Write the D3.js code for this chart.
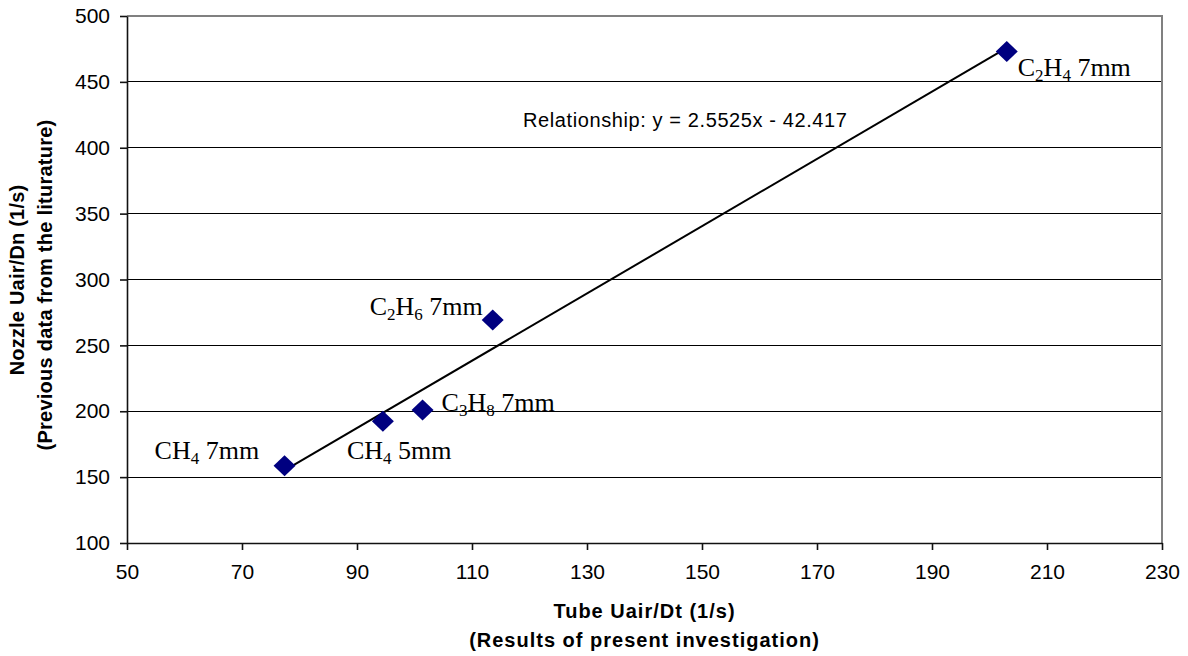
<!DOCTYPE html>
<html>
<head>
<meta charset="utf-8">
<script src="https://cdn.jsdelivr.net/npm/d3@7"></script>
<style>
  html, body { margin: 0; padding: 0; background: #fff; }
  svg { display: block; }
  .tick text { font-family: Arial, "Liberation Sans", sans-serif; font-size: 21px; fill: #000; }
</style>
</head>
<body>
<svg id="chart" width="1188" height="656"></svg>
<script>
// Flame data: tube vs nozzle air velocity / diameter
const fuels    = ["CH4 7mm", "CH4 5mm", "C3H8 7mm", "C2H6 7mm", "C2H4 7mm"];
const tubeVals = [77.4, 94.5, 101.4, 113.6, 203.0];
const nozzleVals = [158.6, 192.5, 201.0, 269.3, 473.0];
// label pieces: [text, isSubscript]
const labelParts = [
  [["CH", 0], ["4", 1], [" 7mm", 0]],
  [["CH", 0], ["4", 1], [" 5mm", 0]],
  [["C", 0], ["3", 1], ["H", 0], ["8", 1], [" 7mm", 0]],
  [["C", 0], ["2", 1], ["H", 0], ["6", 1], [" 7mm", 0]],
  [["C", 0], ["2", 1], ["H", 0], ["4", 1], [" 7mm", 0]]
];
const xTicks = [50, 70, 90, 110, 130, 150, 170, 190, 210, 230];
const yTicks = [100, 150, 200, 250, 300, 350, 400, 450, 500];
const slope = 2.5525, intercept = -42.417;
const equationText = "Relationship: y = 2.5525x - 42.417";

const svg = d3.select("#chart");
const L = 127, R = 1162, T = 16, B = 543;

const x = d3.scaleLinear().domain([50, 230]).range([L, R]);
const y = d3.scaleLinear().domain([100, 500]).range([B, T]);

// horizontal gridlines
svg.append("g").selectAll("line").data(yTicks.slice(1, -1)).join("line")
  .attr("x1", L).attr("x2", R)
  .attr("y1", d => y(d)).attr("y2", d => y(d))
  .attr("stroke", "#000").attr("stroke-width", 1).attr("shape-rendering", "crispEdges");

// plot area border (top and right)
svg.append("path")
  .attr("d", `M${L},${T}H${R}V${B}`)
  .attr("fill", "none").attr("stroke", "#808080").attr("stroke-width", 2);

// axes
const xAxis = svg.append("g").attr("transform", `translate(0,${B})`)
  .call(d3.axisBottom(x).tickValues(xTicks).tickSize(7).tickPadding(14).tickSizeOuter(0));
const yAxis = svg.append("g").attr("transform", `translate(${L},0)`)
  .call(d3.axisLeft(y).tickValues(yTicks).tickSize(7).tickPadding(10).tickSizeOuter(0));
[xAxis, yAxis].forEach(a => {
  a.selectAll("path, line").attr("stroke", "#111").attr("stroke-width", 1.6);
});

// trend line from the fitted equation across the data range
const xMin = d3.min(tubeVals), xMax = d3.max(tubeVals);
svg.append("line")
  .attr("x1", x(xMin)).attr("y1", y(slope * xMin + intercept))
  .attr("x2", x(xMax)).attr("y2", y(slope * xMax + intercept))
  .attr("stroke", "#000").attr("stroke-width", 2);

// diamond markers
const diamond = "M0,-10.5L11,0L0,10.5L-11,0Z";
svg.append("g").selectAll("path").data(tubeVals).join("path")
  .attr("d", diamond)
  .attr("transform", (d, i) => `translate(${x(d)},${y(nozzleVals[i])})`)
  .attr("fill", "#000080");

// point labels (offset relative to each marker)
const labelOffsets = [[-130, -7], [-36, 38], [19, 1], [-123, -5], [11, 24]];
fuels.forEach((name, i) => {
  const [dx, dy] = labelOffsets[i];
  const t = svg.append("text")
    .attr("x", x(tubeVals[i]) + dx)
    .attr("y", y(nozzleVals[i]) + dy)
    .attr("font-family", "'Liberation Serif', 'Times New Roman', serif")
    .attr("font-size", 26)
    .attr("fill", "#000");
  let sub = false;
  labelParts[i].forEach(([s, isSub]) => {
    const ts = t.append("tspan").text(s);
    if (isSub) ts.attr("font-size", 17);
    if (isSub && !sub) { ts.attr("dy", 5); sub = true; }
    else if (!isSub && sub) { ts.attr("dy", -5); sub = false; }
  });
});

// equation label
svg.append("text")
  .attr("x", 523).attr("y", 126.5)
  .attr("font-family", "Arial, 'Liberation Sans', sans-serif")
  .attr("font-size", 20).attr("letter-spacing", 0.6).attr("fill", "#000")
  .text(equationText);

// axis titles
const titleFont = "Arial, 'Liberation Sans', sans-serif";
svg.append("text").attr("x", (L + R) / 2).attr("y", 618)
  .attr("text-anchor", "middle").attr("font-family", titleFont).attr("letter-spacing", 1)
  .attr("font-size", 20).attr("font-weight", "bold").text("Tube Uair/Dt (1/s)");
svg.append("text").attr("x", (L + R) / 2).attr("y", 647)
  .attr("text-anchor", "middle").attr("font-family", titleFont).attr("letter-spacing", 1)
  .attr("font-size", 20).attr("font-weight", "bold").text("(Results of present investigation)");

svg.append("text").attr("transform", `translate(24,280) rotate(-90)`)
  .attr("text-anchor", "middle").attr("font-family", titleFont).attr("letter-spacing", 0.2)
  .attr("font-size", 20).attr("font-weight", "bold").text("Nozzle Uair/Dn (1/s)");
svg.append("text").attr("transform", `translate(52,285) rotate(-90)`)
  .attr("text-anchor", "middle").attr("font-family", titleFont).attr("letter-spacing", 0.25)
  .attr("font-size", 20).attr("font-weight", "bold").text("(Previous data from the liturature)");
</script>
</body>
</html>
